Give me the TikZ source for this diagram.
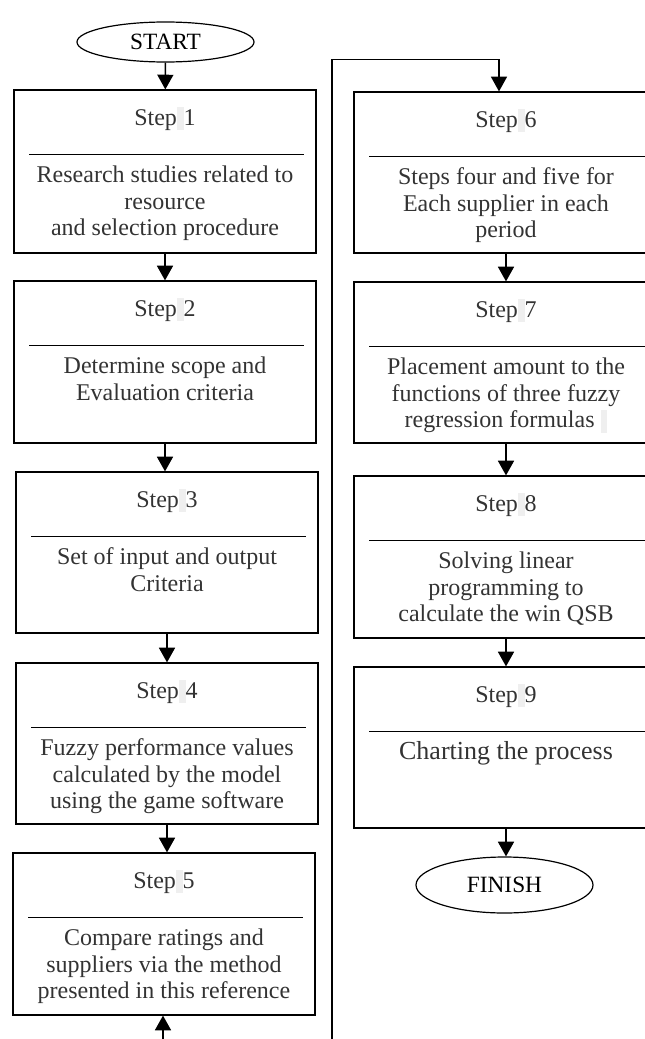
\documentclass[tikz,border=0pt]{standalone}
\usepackage{fontspec}
\setmainfont{Liberation Serif}
\usepackage{xcolor}
\definecolor{FlowInk}{HTML}{333333}
\definecolor{FlowMark}{HTML}{EFEFEF}
\usepackage{tikz}
\usetikzlibrary{arrows.meta,positioning,calc,fit,shapes.geometric}
\newcommand{\gapmark}{{\color{FlowMark}\rule[-0.2em]{0.28em}{0.95em}}}
\tikzset{
  stepbox/.style={draw,line width=0.9pt,inner sep=0pt},
  steptext/.style={font=\fontsize{18}{20}\selectfont,text=FlowInk,align=center,anchor=base,inner sep=0pt},
  terminal/.style={draw,ellipse,line width=0.9pt,inner sep=0pt,minimum width=132.75pt,font=\fontsize{17.5}{20}\selectfont},
  flow/.style={line width=1.1pt,-{Triangle[length=11pt,width=12pt]}}
}

\begin{document}
\begin{tikzpicture}[x=0.75pt,y=-0.75pt]
  \useasboundingbox (0,0) rectangle (645,1039);
  \node[terminal,minimum height=30pt] (start) at (165.5,42) {START};
  \node[terminal,minimum height=42pt] (finish) at (504.5,885) {FINISH};
  \foreach \n/\xl/\xr/\yt/\yb/\k/\body in {
      1/14/316/90/253/3/{Research studies related to\\resource\\and selection procedure},
      2/14/316/281/443/2/{Determine scope and\\Evaluation criteria},
      3/16/318/472/633/2/{Set of input and output\\Criteria},
      4/16/318/663/824/3/{Fuzzy performance values\\calculated by the model\\using the game software},
      5/13/315/853/1015/3/{Compare ratings and\\suppliers via the method\\presented in this reference},
      6/354/658/92/253/3/{Steps four and five for\\Each supplier in each\\period},
      7/354/658/282/443/3/{Placement amount to the\\functions of three fuzzy\\regression formulas \gapmark},
      8/354/658/476/638/3/{Solving linear\\programming to\\calculate the win QSB},
      9/354/658/667/828/1/{\fontsize{19.5}{22}\selectfont Charting the process}}{
    \node[stepbox,fit={(\xl,\yt) (\xr,\yb)}] (s\n) {};
    \node[steptext] (t\n) at ($(s\n.north)+(0,36)$) {Step\gapmark{}\n};
    \draw[line width=0.8pt] ($(s\n.north west)+(16,65)$) -- ($(s\n.north east)+(-13,65)$);
    \node[steptext] (b\n) at ($(s\n.north)+(0,{93+(\k-1)*26.7})$) {\body};
  }
  \draw[flow] (start) -- (s1);
  \foreach \a/\b in {1/2,2/3,3/4,4/5,6/7,7/8,8/9}
    \draw[flow] (s\a.south) -- (s\a.south |- s\b.north);
  \draw[flow] (s9.south) -- (s9.south |- finish.north);
  \coordinate (loopfoot) at (332,1039);
  \coordinate (into6) at ([xshift=-5.25pt]s6.north);
  \draw[flow,line width=0.8pt] (loopfoot) |- ($(into6)+(0,-32)$) -- (into6);
  \coordinate (feed5) at (163,1039);
  \draw[flow] (feed5) -- (feed5 |- s5.south);
\end{tikzpicture}
\end{document}
